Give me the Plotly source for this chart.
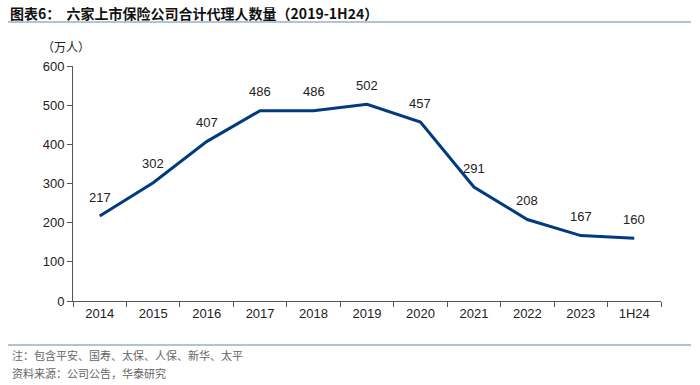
import plotly.graph_objects as go

categories = ["2014", "2015", "2016", "2017", "2018", "2019", "2020", "2021", "2022", "2023", "1H24"]
agents = [217, 302, 407, 486, 486, 502, 457, 291, 208, 167, 160]
y_ticks = [0, 100, 200, 300, 400, 500, 600]

title_text = "图表6：  六家上市保险公司合计代理人数量（2019-1H24）"
unit_text = "（万人）"
note_text = "注：包含平安、国寿、太保、人保、新华、太平"
source_text = "资料来源：公司公告，华泰研究"

PW = 588  # plot width in px
fig = go.Figure()
fig.add_trace(go.Scatter(
    x=list(range(len(categories))), y=agents, mode="lines",
    line=dict(color="#023A7E", width=3),
    hoverinfo="skip", showlegend=False,
))

for i, v in enumerate(agents):
    fig.add_annotation(x=i, y=v, text=str(v), showarrow=False,
                       yshift=19, font=dict(family="Liberation Sans, Arial", size=13, color="#222222"))

fig.update_layout(
    width=700, height=385,
    margin=dict(l=73, r=39, t=66, b=84),
    paper_bgcolor="white", plot_bgcolor="white",
    font=dict(family="Liberation Sans, Arial", size=13, color="#222222"),
    xaxis=dict(
        range=[-0.5, 10.5],
        tickvals=list(range(len(categories))), ticktext=categories,
        showline=True, linecolor="#555555", linewidth=1,
        ticks="", showgrid=False, zeroline=False, fixedrange=True,
        tickfont=dict(size=13, color="#222222"),
        minor=dict(tickvals=[i - 0.5 for i in range(len(categories) + 1)],
                   ticks="outside", ticklen=5, tickcolor="#555555", showgrid=False),
    ),
    yaxis=dict(
        range=[0, 600], tickvals=y_ticks,
        showline=True, linecolor="#555555", linewidth=1,
        ticks="outside", ticklen=5, tickcolor="#555555",
        showgrid=False, zeroline=False, fixedrange=True,
        tickfont=dict(size=13, color="#222222"),
    ),
)

# title
fig.add_annotation(xref="paper", yref="paper", x=-65/PW, y=1 + (66-13)/235,
                   xanchor="left", yanchor="middle", text="<b>" + title_text + "</b>",
                   showarrow=False, font=dict(family="Noto Sans CJK SC", size=14, color="#111111"))
fig.add_annotation(xref="paper", yref="paper", x=-33/PW, y=1 + (66-46)/235,
                   xanchor="left", yanchor="middle", text=unit_text,
                   showarrow=False, font=dict(family="Noto Sans CJK SC", size=12, color="#222222"))
fig.add_annotation(xref="paper", yref="paper", x=-63/PW, y=-(355-301)/235,
                   xanchor="left", yanchor="middle", text=note_text,
                   showarrow=False, font=dict(family="Noto Sans CJK SC", size=11, color="#666666"))
fig.add_annotation(xref="paper", yref="paper", x=-63/PW, y=-(373-301)/235,
                   xanchor="left", yanchor="middle", text=source_text,
                   showarrow=False, font=dict(family="Noto Sans CJK SC", size=11, color="#666666"))

# separator lines
fig.add_shape(type="line", xref="paper", yref="paper",
              x0=-65/PW, x1=(691-73)/PW, y0=1 + (66-22)/235, y1=1 + (66-22)/235,
              line=dict(color="#B3C3D6", width=2))
fig.add_shape(type="line", xref="paper", yref="paper",
              x0=-65/PW, x1=(691-73)/PW, y0=-(345-301)/235, y1=-(345-301)/235,
              line=dict(color="#B3C3D6", width=2))

fig.write_html("out.html", config={"displayModeBar": False},
               post_script="document.body.style.margin='0';document.body.style.overflow='hidden';")
